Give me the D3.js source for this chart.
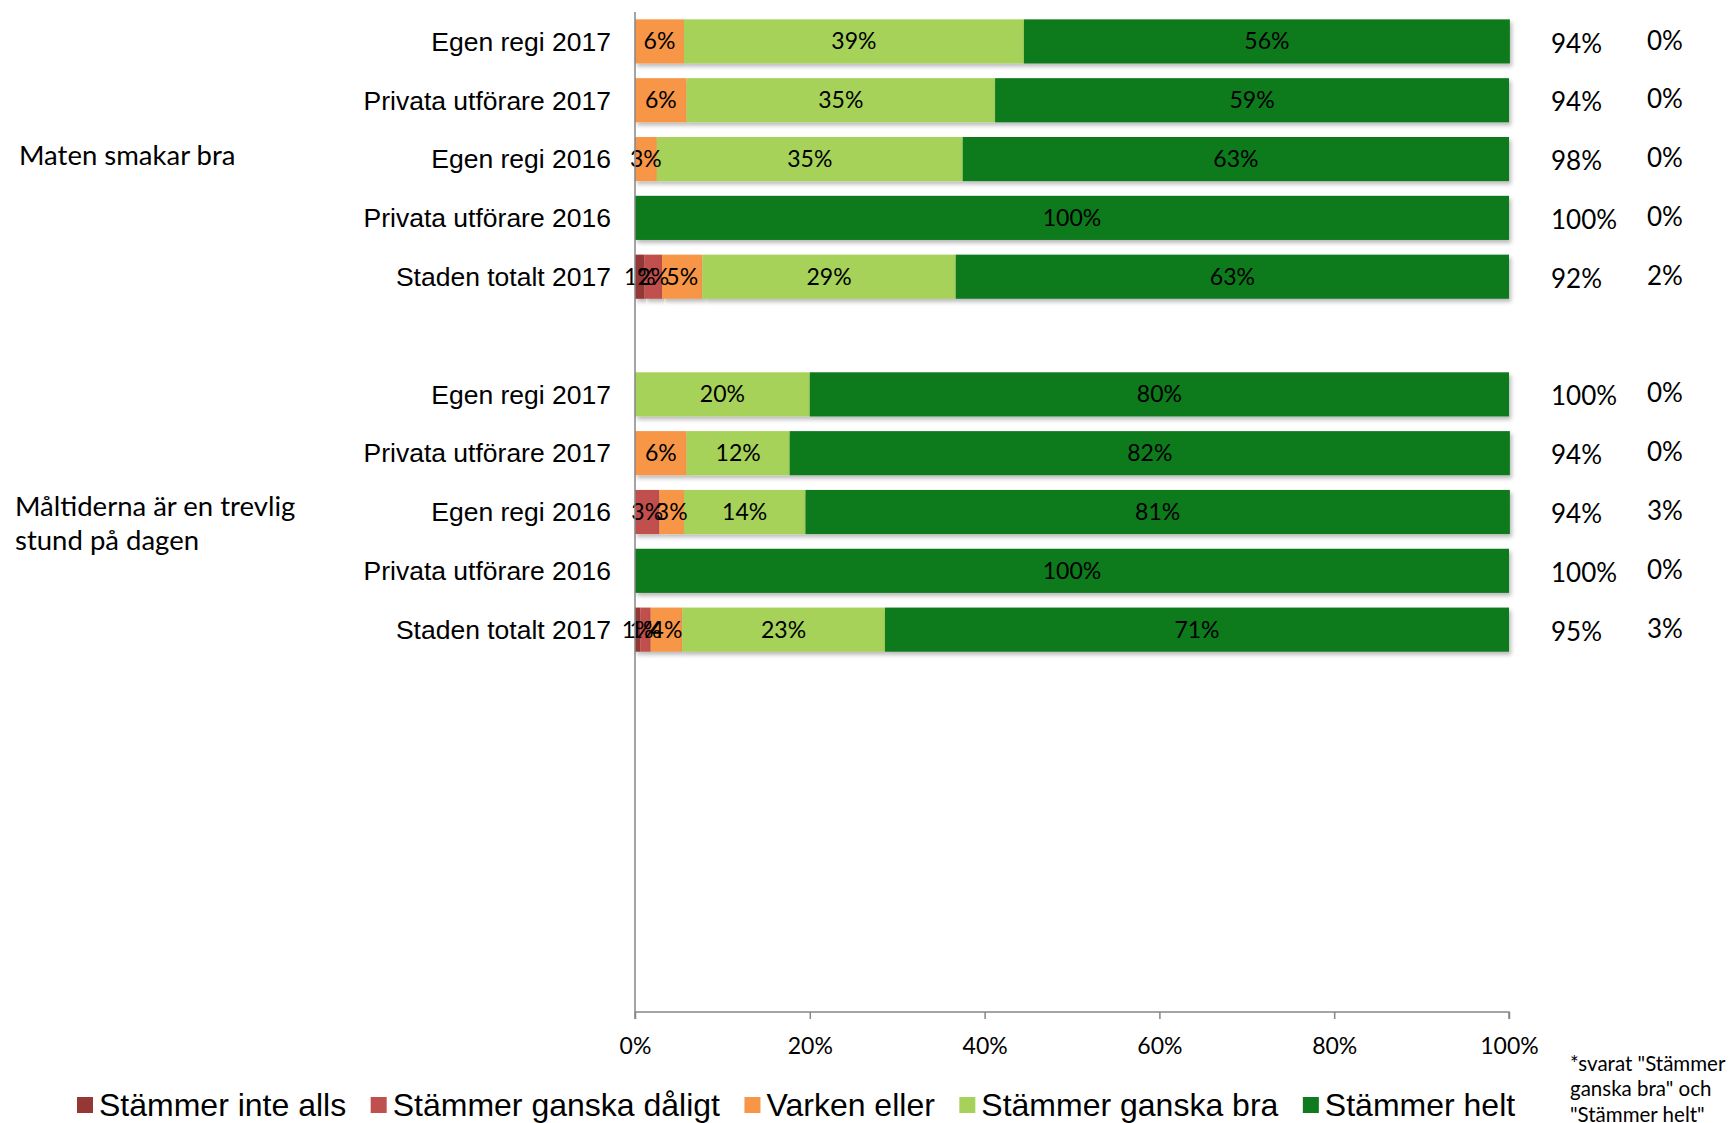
<!DOCTYPE html>
<html>
<head>
<meta charset="utf-8">
<script src="https://cdn.jsdelivr.net/npm/d3@7"></script>
<style>
  html, body { margin: 0; padding: 0; background: #fff; }
  svg { display: block; }
</style>
</head>
<body>
<svg id="chart" width="1729" height="1123"></svg>
<script>
// ---------- DATA ----------
const categories = [
  "Egen regi 2017", "Privata utförare 2017", "Egen regi 2016", "Privata utförare 2016", "Staden totalt 2017",
  "",
  "Egen regi 2017", "Privata utförare 2017", "Egen regi 2016", "Privata utförare 2016", "Staden totalt 2017",
  "", "", "", "", "", ""
];
const seriesNames = ["Stämmer inte alls", "Stämmer ganska dåligt", "Varken eller", "Stämmer ganska bra", "Stämmer helt"];
const seriesColors = ["#953735", "#C0504D", "#F79646", "#A6D25A", "#0F7A1E"];
const inteAlls      = [0,    0,    0,    0,   1.1,  null, 0,  0,    0,    0,   0.6];
const ganskaDaligt  = [0,    0,    0,    0,   2.0,  null, 0,  0,    2.8,  0,   1.2];
const varkenEller   = [5.6,  5.9,  2.5,  0,   4.6,  null, 0,  5.9,  2.8,  0,   3.6];
const ganskaBra     = [38.9, 35.3, 35.0, 0,   29.0, null, 20, 11.8, 13.9, 0,   23.2];
const stammerHelt   = [55.6, 58.8, 62.5, 100, 63.3, null, 80, 82.4, 80.6, 100, 71.4];
const positiveCol   = ["94%", "94%", "98%", "100%", "92%", "", "100%", "94%", "94%", "100%", "95%"];
const negativeCol   = ["0%", "0%", "0%", "0%", "2%", "", "0%", "0%", "3%", "0%", "3%"];
const groupLabels   = [["Maten smakar bra"], ["Måltiderna är en trevlig", "stund på dagen"]];
const xTicks        = [0, 20, 40, 60, 80, 100];
const footnote      = ["*svarat \"Stämmer", "ganska bra\" och", "\"Stämmer helt\""];

// ---------- LAYOUT ----------
const svg = d3.select("#chart");
const plot = { left: 635, right: 1509, top: 12, bottom: 1012 };

const x = d3.scaleLinear().domain([0, 100]).range([plot.left, plot.right]);
const y = d3.scaleBand()
  .domain(categories.map((d, i) => i))
  .range([plot.top, plot.bottom])
  .paddingInner(0.25).paddingOuter(0.125);

const seriesArrays = [inteAlls, ganskaDaligt, varkenEller, ganskaBra, stammerHelt];
const rows = categories.map((c, i) => {
  const r = { idx: i, label: c };
  seriesNames.forEach((s, k) => { r[s] = seriesArrays[k][i] == null ? 0 : seriesArrays[k][i]; });
  return r;
}).filter((r, i) => i < inteAlls.length && inteAlls[i] != null);

const stacked = d3.stack().keys(seriesNames)(rows);

// shadow filter
const defs = svg.append("defs");
const f = defs.append("filter").attr("id", "shadow").attr("x", "-5%").attr("y", "-20%").attr("width", "110%").attr("height", "160%");
f.append("feDropShadow").attr("dx", 2).attr("dy", 3).attr("stdDeviation", 2).attr("flood-color", "#000").attr("flood-opacity", 0.28);

// bars
const barG = svg.append("g");
stacked.forEach((layer, k) => {
  const g = barG.append("g").attr("fill", seriesColors[k]).attr("filter", "url(#shadow)");
  g.selectAll("rect").data(layer.filter(d => d[1] - d[0] > 0)).join("rect")
    .attr("x", d => x(d[0]))
    .attr("y", d => y(d.data.idx))
    .attr("width", d => x(d[1]) - x(d[0]))
    .attr("height", y.bandwidth());
});

// segment labels
const labelFont = "Lato, 'Open Sans', sans-serif";
stacked.forEach((layer, k) => {
  barG.append("g").selectAll("text").data(layer.filter(d => d[1] - d[0] > 0)).join("text")
    .attr("x", d => (x(d[0]) + x(d[1])) / 2)
    .attr("y", d => y(d.data.idx) + y.bandwidth() / 2)
    .attr("dy", "0.35em")
    .attr("text-anchor", "middle")
    .attr("font-family", labelFont)
    .attr("font-size", 23)
    .attr("fill", "#000")
    .text(d => Math.round(d[1] - d[0]) + "%");
});

// axes
const axisColor = "#868686";
svg.append("line").attr("x1", plot.left).attr("x2", plot.left).attr("y1", plot.top).attr("y2", plot.bottom)
  .attr("stroke", axisColor).attr("stroke-width", 1.5);
const xAxis = d3.axisBottom(x).tickValues(xTicks).tickSize(7).tickFormat(d => d + "%");
const xg = svg.append("g").attr("transform", `translate(0,${plot.bottom})`).call(xAxis);
xg.select(".domain").attr("stroke", axisColor).attr("stroke-width", 1.5).attr("d", `M${plot.left},7V0H${plot.right}V7`);
xg.selectAll(".tick line").attr("stroke", axisColor).attr("stroke-width", 1.5);
xg.selectAll(".tick text").attr("font-family", labelFont).attr("font-size", 23).attr("fill", "#000").attr("dy", "1.38em");

// category labels
svg.append("g").selectAll("text").data(categories.map((c, i) => ({ c, i })).filter(d => d.c)).join("text")
  .attr("x", plot.left - 24)
  .attr("y", d => y(d.i) + y.bandwidth() / 2)
  .attr("dy", "0.35em")
  .attr("text-anchor", "end")
  .attr("font-family", "'Liberation Sans', Arial, sans-serif")
  .attr("font-size", 26.5)
  .attr("fill", "#000")
  .text(d => d.c);

// group labels
const groupLineY = [[155.5], [506, 540]];
const groupX = [19, 15];
groupLabels.forEach((lines, gi) => {
  const t = svg.append("text").attr("font-family", labelFont).attr("font-size", 27.5).attr("fill", "#000");
  lines.forEach((l, li) => {
    t.append("tspan").attr("x", groupX[gi]).attr("y", groupLineY[gi][li]).attr("dy", "0.35em").text(l);
  });
});

// right columns
const colG = svg.append("g").attr("font-family", labelFont).attr("font-size", 26).attr("fill", "#000");
positiveCol.forEach((v, i) => {
  if (!v) return;
  const cy = y(i) + y.bandwidth() / 2;
  colG.append("text").attr("x", 1551).attr("y", cy + 2).attr("dy", "0.35em").text(v);
  colG.append("text").attr("x", 1647).attr("y", cy - 1).attr("dy", "0.35em").text(negativeCol[i]);
});

// footnote
const fn = svg.append("text").attr("font-family", labelFont).attr("font-size", 20.5).attr("fill", "#000");
footnote.forEach((l, i) => fn.append("tspan").attr("x", 1570).attr("y", 1071 + i * 25.4).text(l));

// legend
const legend = svg.append("g").attr("font-family", "'Liberation Sans', Arial, sans-serif").attr("font-size", 32);
let lx = 77;
seriesNames.forEach((s, k) => {
  legend.append("rect").attr("x", lx).attr("y", 1097).attr("width", 16).attr("height", 16).attr("fill", seriesColors[k]);
  const t = legend.append("text").attr("x", lx + 22).attr("y", 1116).attr("fill", "#000").text(s);
  lx += 22 + t.node().getComputedTextLength() + 24.5;
});
</script>
</body>
</html>
